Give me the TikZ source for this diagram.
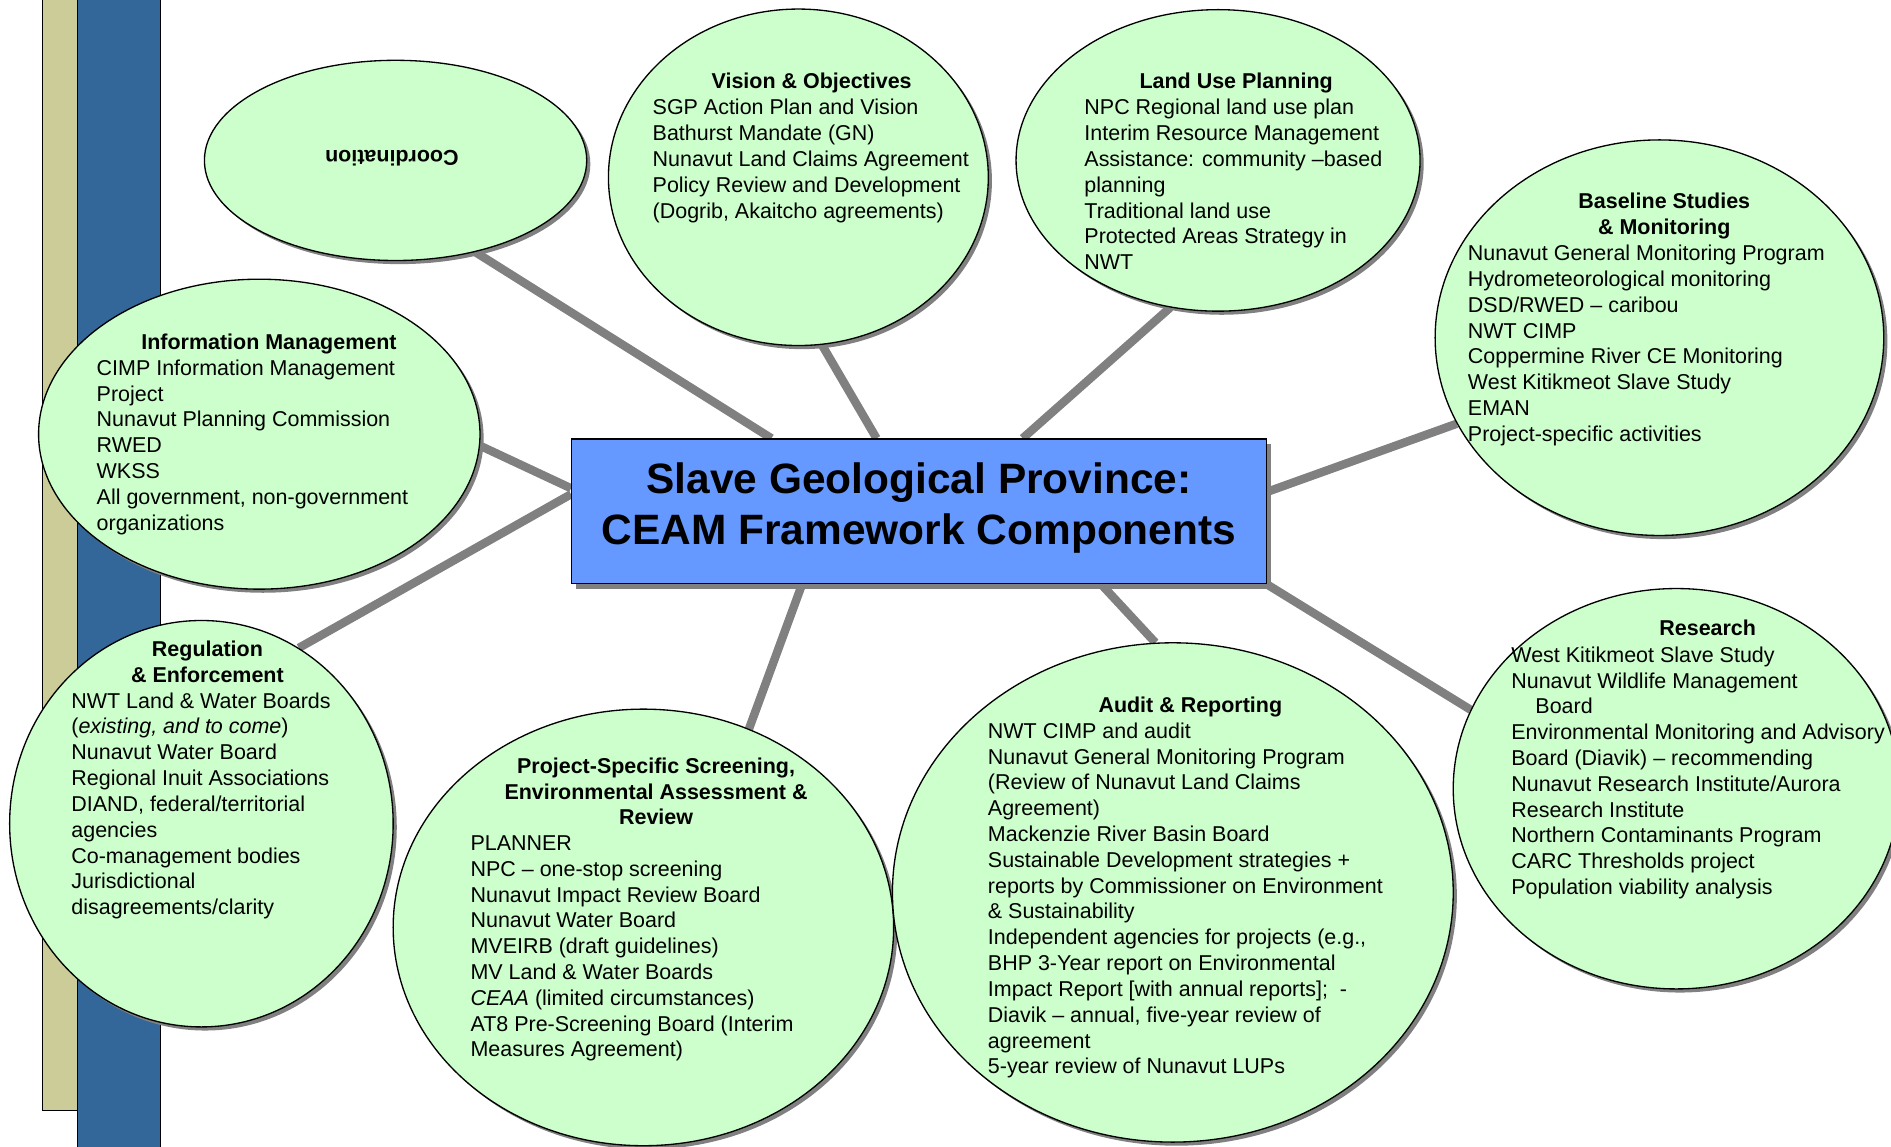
\documentclass[tikz,border=0pt]{standalone}
\usepackage{fontspec}
\setmainfont{Liberation Sans}
\usetikzlibrary{shapes.geometric,shadows,calc,backgrounds}
\definecolor{bubblegreen}{RGB}{204,255,204}
\definecolor{boxblue}{RGB}{102,153,255}
\definecolor{barblue}{RGB}{51,102,153}
\definecolor{bartan}{RGB}{204,204,153}
\definecolor{linegray}{RGB}{128,128,128}
\begin{document}
\begin{tikzpicture}[x=1pt,y=-1pt,
  bubble/.style={ellipse, draw=black, line width=1.1pt, fill=bubblegreen, inner sep=0pt,
    drop shadow={shadow xshift=3pt, shadow yshift=-3pt, fill=linegray, opacity=1}},
  titlebox/.style={rectangle, draw=black, line width=1.1pt, fill=boxblue, inner sep=0pt,
    minimum width=576pt, minimum height=120pt,
    drop shadow={shadow xshift=4pt, shadow yshift=-4pt, fill=linegray, opacity=1}},
  body/.style={anchor=north west, align=left, inner sep=0pt, font=\fontsize{17.8}{21.4}\selectfont},
  head/.style={anchor=north, align=center, inner sep=0pt, font=\fontsize{17.8}{21.4}\selectfont\bfseries},
  conn/.style={draw=linegray, line width=7pt},
  bar/.style={draw=black, line width=1.1pt}]
\useasboundingbox (0,0) rectangle (1568,951);

% side bars
\path[bar, fill=bartan] (35,-10) rectangle (64,921);
\path[bar, fill=barblue] (64,-10) rectangle (133,970);

% central box
\node[titlebox] (box) at (762,424) {};
\node[inner sep=0pt, align=center, font=\fontsize{35.2}{42}\selectfont\bfseries] (title) at (762,421)
  {Slave Geological Province:\\CEAM Framework Components};

% bubbles
\node[bubble, minimum width=317pt, minimum height=166pt] (coord) at (328,133) {};
\node[bubble, minimum width=315pt, minimum height=279pt] (vision) at (662,147) {};
\node[bubble, minimum width=335pt, minimum height=250pt] (landuse) at (1010,133) {};
\node[bubble, minimum width=372pt, minimum height=328pt] (baseline) at (1376,280) {};
\node[bubble, minimum width=366pt, minimum height=257pt] (info) at (215,360) {};
\node[bubble, minimum width=318pt, minimum height=337pt] (regul) at (167,683) {};
\node[bubble, minimum width=415pt, minimum height=362pt] (project) at (533.5,769) {};
\node[bubble, minimum width=465pt, minimum height=414pt] (audit) at (972.5,740) {};
\node[bubble, minimum width=370pt, minimum height=332pt] (research) at (1390,654) {};

% texts
\node[inner sep=0pt, rotate=180, font=\fontsize{17.8}{21.4}\selectfont\bfseries] (coordtxt) at (325,131) {Coordination};

\node[head] (visionhd) at (673,58) {\strut Vision \& Objectives};
\node[body] (visiontx) at (541,80) {\strut SGP Action Plan and Vision\\
Bathurst Mandate (GN)\\
Nunavut Land Claims Agreement\\
Policy Review and Development\\
(Dogrib, Akaitcho agreements)};

\node[head] (landusehd) at (1025,58) {\strut Land Use Planning};
\node[body] (landusetx) at (899,80) {\strut NPC Regional land use plan\\
Interim Resource Management\\
Assistance: community –based\\
planning\\
Traditional land use\\
Protected Areas Strategy in\\
NWT};

\node[head] (baselinehd) at (1380,158) {\strut Baseline Studies\\\& Monitoring};
\node[body] (baselinetx) at (1217,201) {\strut Nunavut General Monitoring Program\\
Hydrometeorological monitoring\\
DSD/RWED – caribou\\
NWT CIMP\\
Coppermine River CE Monitoring\\
West Kitikmeot Slave Study\\
EMAN\\
Project-specific activities};

\node[head] (infohd) at (223,275) {\strut Information Management};
\node[body] (infotx) at (80,296) {\strut CIMP Information Management\\
Project\\
Nunavut Planning Commission\\
RWED\\
WKSS\\
All government, non-government\\
organizations};

\node[head] (regulhd) at (172,529) {\strut Regulation\\\& Enforcement};
\node[body] (regultx) at (59,572) {\strut NWT Land \& Water Boards\\
(\textit{existing, and to come})\\
Nunavut Water Board\\
Regional Inuit Associations\\
DIAND, federal/territorial\\
agencies\\
Co-management bodies\\
Jurisdictional\\
disagreements/clarity};

\node[head] (projecthd) at (544,626) {\strut Project-Specific Screening,\\Environmental Assessment \&\\Review};
\node[body] (projecttx) at (390,690) {\strut PLANNER\\
NPC – one-stop screening\\
Nunavut Impact Review Board\\
Nunavut Water Board\\
MVEIRB (draft guidelines)\\
MV Land \& Water Boards\\
\textit{CEAA} (limited circumstances)\\
AT8 Pre-Screening Board (Interim\\
Measures Agreement)};

\node[head] (audithd) at (987,576) {\strut Audit \& Reporting};
\node[body] (audittx) at (819,597) {\strut NWT CIMP and audit\\
Nunavut General Monitoring Program\\
(Review of Nunavut Land Claims\\
Agreement)\\
Mackenzie River Basin Board\\
Sustainable Development strategies +\\
reports by Commissioner on Environment\\
\& Sustainability\\
Independent agencies for projects (e.g.,\\
BHP 3-Year report on Environmental\\
Impact Report [with annual reports];\ \ -\\
Diavik – annual, five-year review of\\
agreement\\
5-year review of Nunavut LUPs};

\node[head] (researchhd) at (1416,512) {\strut Research};
\node[body] (researchtx) at (1253,534) {\strut West Kitikmeot Slave Study\\
Nunavut Wildlife Management\\
\hspace*{20pt}Board\\
Environmental Monitoring and Advisory\\
Board (Diavik) – recommending\\
Nunavut Research Institute/Aurora\\
Research Institute\\
Northern Contaminants Program\\
CARC Thresholds project\\
Population viability analysis};

% connector end points on the central box
\coordinate (bCo) at ($(box.north west)!0.288!(box.north east)$);
\coordinate (bVi) at ($(box.north west)!0.439!(box.north east)$);
\coordinate (bLu) at ($(box.north west)!0.649!(box.north east)$);
\coordinate (bBa) at ($(box.north east)!0.367!(box.south east)$);
\coordinate (bIn) at ($(box.north west)!0.342!(box.south west)$);
\coordinate (bRe) at ($(box.north west)!0.383!(box.south west)$);
\coordinate (bPr) at ($(box.south west)!0.332!(box.south east)$);
\coordinate (bAu) at ($(box.south west)!0.762!(box.south east)$);
\coordinate (bRs) at (box.south east);

\begin{pgfonlayer}{background}
\draw[conn] (coord.-49.7) -- (bCo);
\draw[conn] (vision.-82.4) -- (bVi);
\draw[conn] (landuse.-108) -- (bLu);
\draw[conn] (baseline.-157.9) -- (bBa);
\draw[conn] (info.-3) -- (bIn);
\draw[conn] (regul.61.8) -- (bRe);
\draw[conn] (project.62.2) -- (bPr);
\draw[conn] (audit.94.7) -- (bAu);
\draw[conn] (research.159.6) -- (bRs);
\end{pgfonlayer}
\end{tikzpicture}
\end{document}
